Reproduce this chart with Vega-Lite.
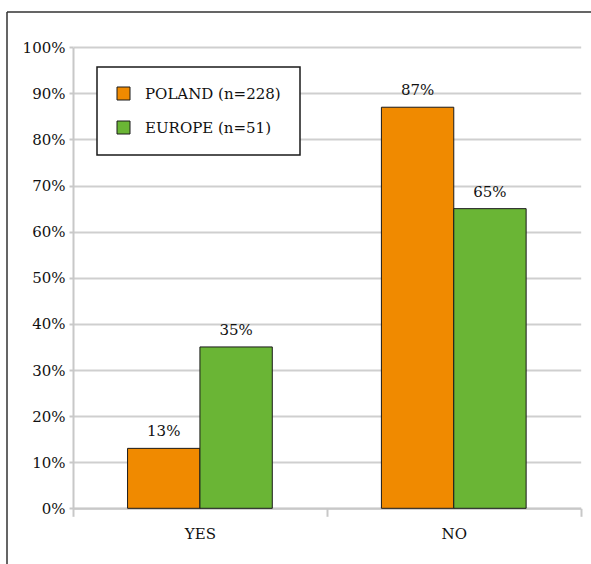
{
  "$schema": "https://vega.github.io/schema/vega-lite/v6.json",
  "width": 584,
  "height": 552,
  "autosize": {"type": "none"},
  "padding": {"left": 7, "top": 12, "right": 0, "bottom": 0},
  "background": "white",
  "config": {
    "font": "DejaVu Serif",
    "view": {"stroke": "#333333", "strokeWidth": 1.5, "strokeDash": [584, 1136, 552, 0]}
  },
  "data": {
    "values": [
      {"answer": "YES", "group": "POLAND (n=228)", "share": 0.13},
      {"answer": "YES", "group": "EUROPE (n=51)", "share": 0.35},
      {"answer": "NO", "group": "POLAND (n=228)", "share": 0.87},
      {"answer": "NO", "group": "EUROPE (n=51)", "share": 0.65}
    ]
  },
  "encoding": {
    "x": {
      "field": "answer",
      "type": "nominal",
      "sort": ["YES", "NO"],
      "scale": {"range": [66, 573.7], "paddingInner": 0, "paddingOuter": 0},
      "axis": {
        "title": null,
        "orient": "bottom",
        "offset": -55.7,
        "tickBand": "extent",
        "tickSize": 8,
        "labelPadding": 10,
        "labelAngle": 0,
        "grid": false,
        "domainColor": "#c8c8c8",
        "domainWidth": 2,
        "tickColor": "#c8c8c8",
        "tickWidth": 2,
        "labelFontSize": 15,
        "labelColor": "#111111"
      }
    },
    "xOffset": {
      "field": "group",
      "type": "nominal",
      "sort": ["POLAND (n=228)", "EUROPE (n=51)"],
      "scale": {"paddingInner": 0, "paddingOuter": 0.754}
    },
    "y": {
      "field": "share",
      "type": "quantitative",
      "scale": {"domain": [0, 1], "range": [496.3, 35.3], "nice": false},
      "axis": {
        "title": null,
        "offset": -66,
        "values": [0, 0.1, 0.2, 0.3, 0.4, 0.5, 0.6, 0.7, 0.8, 0.9, 1],
        "format": ".0%",
        "tickSize": 4,
        "labelPadding": 4,
        "grid": true,
        "gridColor": "#cfcfcf",
        "gridWidth": 2,
        "domainColor": "#c8c8c8",
        "domainWidth": 2,
        "tickColor": "#c8c8c8",
        "tickWidth": 2,
        "labelFontSize": 15,
        "labelColor": "#111111"
      }
    }
  },
  "layer": [
    {
      "mark": {"type": "bar", "stroke": "#1a1a1a", "strokeWidth": 1},
      "encoding": {
        "color": {
          "field": "group",
          "type": "nominal",
          "sort": ["POLAND (n=228)", "EUROPE (n=51)"],
          "scale": {"domain": ["POLAND (n=228)", "EUROPE (n=51)"], "range": ["#f08a00", "#6ab535"]},
          "legend": {
            "title": null,
            "orient": "none",
            "legendX": 90,
            "legendY": 55,
            "symbolType": "square",
            "symbolSize": 169,
            "symbolStrokeColor": "#1a1a1a",
            "symbolStrokeWidth": 1,
            "symbolOpacity": 1,
            "labelFontSize": 15,
            "labelColor": "#111111",
            "labelOffset": 14,
            "rowPadding": 17,
            "padding": 19,
            "strokeColor": "#1a1a1a",
            "fillColor": "white",
            "encode": {"legend": {"update": {"strokeWidth": {"value": 1.5}}}}
          }
        }
      }
    },
    {
      "mark": {"type": "text", "baseline": "middle", "dy": -17, "fontSize": 15, "color": "#111111"},
      "encoding": {"text": {"field": "share", "type": "quantitative", "format": ".0%"}}
    }
  ]
}
